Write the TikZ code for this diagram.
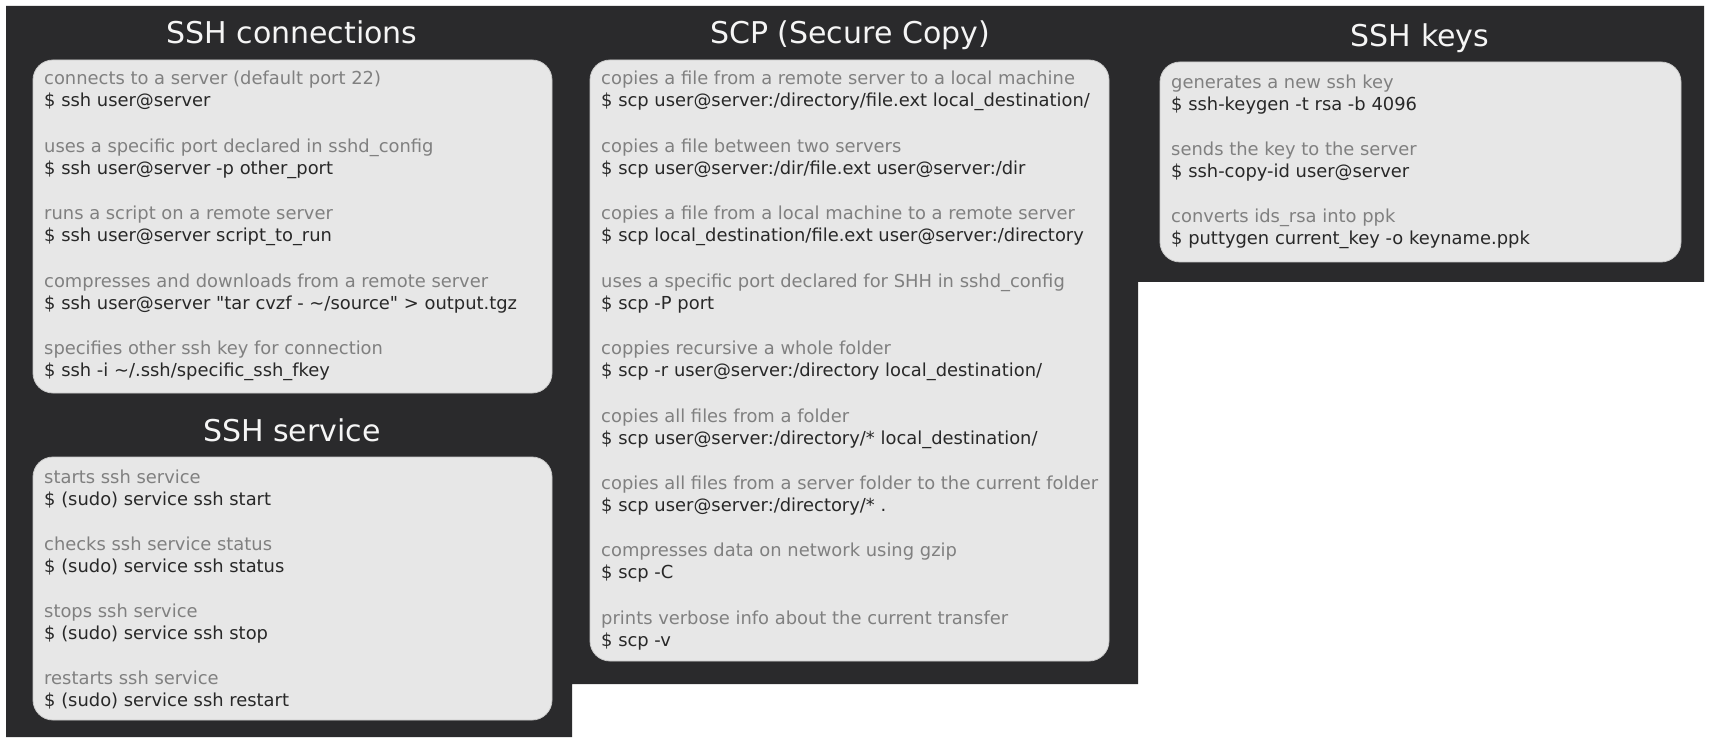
\documentclass[tikz,border=0pt]{standalone}
\usepackage{fontspec}
\setmainfont{DejaVu Sans}[Ligatures=TeXOff]
\definecolor{panel}{RGB}{42,42,44}
\definecolor{card}{RGB}{231,231,231}
\definecolor{cardedge}{RGB}{200,200,200}
\definecolor{desccol}{RGB}{128,128,128}
\definecolor{cmdcol}{RGB}{40,40,40}
\definecolor{titlecol}{RGB}{245,245,245}
\tikzset{
  card/.style={fill=card,draw=cardedge,line width=0.8pt,rounded corners=20pt},
  desc/.style={anchor=base west,inner sep=0pt,text=desccol,font=\fontsize{17.9}{21}\selectfont},
  cmdtxt/.style={anchor=base west,inner sep=0pt,text=cmdcol,font=\fontsize{17.9}{21}\selectfont},
  ttl/.style={anchor=base,inner sep=0pt,text=titlecol,font=\fontsize{30}{36}\selectfont}
}
\newcommand\cmdentry[5]{%
  \node[desc] (#1a) at (#2,#3) {#4};
  \node[cmdtxt] (#1b) at (#2,#3+22) {#5};}
\begin{document}
\begin{tikzpicture}[x=1pt,y=-1pt]
\useasboundingbox (0,0) rectangle (1710,743);
\fill[white] (0,0) rectangle (1710,743);
% dark panels
\fill[panel] (6,6) -- (1704,6) -- (1704,282) -- (1138,282) -- (1138,684) -- (572,684) -- (572,737) -- (6,737) -- cycle;
% cards
\draw[card] (33,60) rectangle (552,393);
\draw[card] (33,457) rectangle (552,720);
\draw[card] (590,60) rectangle (1109,661);
\draw[card] (1160,62) rectangle (1681,262);
% titles
\node[ttl] (t1) at (292,44) {SSH connections};
\node[ttl] (t2) at (292,441) {SSH service};
\node[ttl] (t3) at (850,44) {SCP (Secure Copy)};
\node[ttl] (t4) at (1420,47) {SSH keys};
% SSH connections
\cmdentry{c1}{44}{85}{connects to a server (default port 22)}{\$ ssh user@server}
\cmdentry{c2}{44}{152.4}{uses a specific port declared in sshd\_config}{\$ ssh user@server -p other\_port}
\cmdentry{c3}{44}{219.8}{runs a script on a remote server}{\$ ssh user@server script\_to\_run}
\cmdentry{c4}{44}{287.2}{compresses and downloads from a remote server}{\$ ssh user@server "tar cvzf - \textasciitilde/source" > output.tgz}
\cmdentry{c5}{44}{354.6}{specifies other ssh key for connection}{\$ ssh -i \textasciitilde/.ssh/specific\_ssh\_fkey}
% SSH service
\cmdentry{s1}{44}{483}{starts ssh service}{\$ (sudo) service ssh start}
\cmdentry{s2}{44}{550.3}{checks ssh service status}{\$ (sudo) service ssh status}
\cmdentry{s3}{44}{617.6}{stops ssh service}{\$ (sudo) service ssh stop}
\cmdentry{s4}{44}{684.9}{restarts ssh service}{\$ (sudo) service ssh restart}
% SCP
\cmdentry{p1}{601}{85}{copies a file from a remote server to a local machine}{\$ scp user@server:/directory/file.ext local\_destination/}
\cmdentry{p2}{601}{152.4}{copies a file between two servers}{\$ scp user@server:/dir/file.ext user@server:/dir}
\cmdentry{p3}{601}{219.8}{copies a file from a local machine to a remote server}{\$ scp local\_destination/file.ext user@server:/directory}
\cmdentry{p4}{601}{287.2}{uses a specific port declared for SHH in sshd\_config}{\$ scp -P port}
\cmdentry{p5}{601}{354.6}{coppies recursive a whole folder}{\$ scp -r user@server:/directory local\_destination/}
\cmdentry{p6}{601}{422}{copies all files from a folder}{\$ scp user@server:/directory/* local\_destination/}
\cmdentry{p7}{601}{489.4}{copies all files from a server folder to the current folder}{\$ scp user@server:/directory/* .}
\cmdentry{p8}{601}{556.8}{compresses data on network using gzip}{\$ scp -C}
\cmdentry{p9}{601}{624.2}{prints verbose info about the current transfer}{\$ scp -v}
% SSH keys
\cmdentry{k1}{1171}{89}{generates a new ssh key}{\$ ssh-keygen -t rsa -b 4096}
\cmdentry{k2}{1171}{156}{sends the key to the server}{\$ ssh-copy-id user@server}
\cmdentry{k3}{1171}{223}{converts ids\_rsa into ppk}{\$ puttygen current\_key -o keyname.ppk}
\end{tikzpicture}
\end{document}
